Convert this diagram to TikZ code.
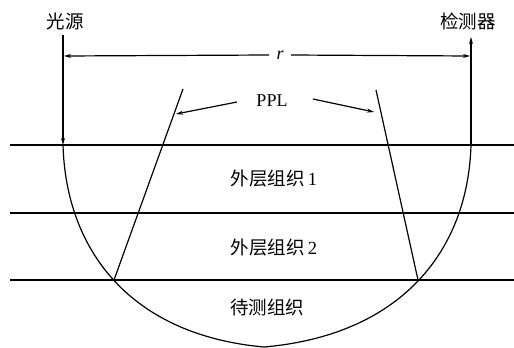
\documentclass[tikz,border=0pt]{standalone}
\usepackage{fontspec}
\setmainfont{Liberation Serif}
\newfontfamily\cjk{Noto Sans CJK SC}
\usetikzlibrary{arrows.meta}
\tikzset{
  thinln/.style={line width=1.2pt},
  thickln/.style={line width=2.4pt},
  arr/.style={line width=1.2pt,-{Stealth[length=7pt,width=4pt]}},
  lbl/.style={inner sep=0pt,font=\cjk\fontsize{18.5}{21}\selectfont},
  lat/.style={inner sep=0pt,font=\fontsize{18}{21}\selectfont},
}
\begin{document}
\begin{tikzpicture}[x=1pt,y=-1pt]
\useasboundingbox (0,0) rectangle (514,348);
% layers
\coordinate (L1a) at (10,145); \coordinate (L1b) at (514,145);
\coordinate (L2a) at (10,213); \coordinate (L2b) at (514,213);
\coordinate (L3a) at (10,280); \coordinate (L3b) at (514,280);
\draw[thickln] (L1a) -- (L1b);
\draw[thinln] (L2a) -- (L2b);
\draw[thinln] (L3a) -- (L3b);
% source / detector
\node[lbl] (src) at (65,21) {光源};
\node[lbl] (det) at (468,21) {检测器};
\coordinate (srcTop) at (63,35);
\coordinate (srcIn) at (63,145);
\coordinate (detOut) at (471,37);
\coordinate (detIn) at (471,145);
\draw[arr] (srcTop) -- (srcIn);
\draw[arr] (detIn) -- (detOut);
% banana
\coordinate (bot) at (264,347);
\draw[thinln] (srcIn) .. controls (66,250) and (130,335) .. (bot)
  .. controls (402,335) and (468,250) .. (detIn);
% r dimension
\node[lat,font=\itshape\fontsize{18}{21}\selectfont] (r) at (280,55) {r};
\coordinate (rL) at (64,56);
\coordinate (rR) at (470,56);
\draw[arr] ([xshift=-11pt]r.center) -- (rL);
\draw[arr] ([xshift=11pt]r.center) -- (rR);
% PPL lines
\coordinate (pLt) at (183,89); \coordinate (pLb) at (114,280);
\coordinate (pRt) at (376,90); \coordinate (pRb) at (418,280);
\draw[thinln] (pLt) -- (pLb);
\draw[thinln] (pRt) -- (pRb);
\node[lat] (ppl) at (272,101) {PPL};
\coordinate (aL) at (176,114);
\coordinate (aR) at (374,112);
\draw[arr] (237,102) -- (aL);
\draw[arr] (313,99) -- (aR);
% layer labels
\node[lbl] (t1) at (274,179) {外层组织\,\fontspec{Liberation Serif}1};
\node[lbl] (t2) at (274,248) {外层组织\,\fontspec{Liberation Serif}2};
\node[lbl] (t3) at (267,307) {待测组织};
\end{tikzpicture}
\end{document}
